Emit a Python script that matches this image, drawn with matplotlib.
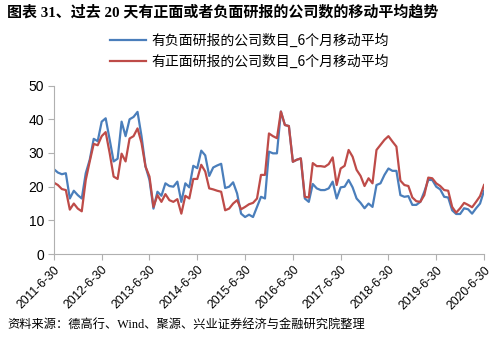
import matplotlib
matplotlib.use("Agg")
import matplotlib.pyplot as plt
import numpy as np

# monthly values, 2011-06 .. 2020-06
neg = [25.2, 24.2, 23.7, 24.0, 16.5, 18.8, 17.5, 16.5, 24.0, 28.0, 34.2, 33.5,
       39.3, 40.3, 34.0, 27.5, 28.3, 39.3, 35.0, 40.0, 40.7, 42.2, 35.0, 26.0,
       22.0, 13.5, 18.5, 17.3, 21.0, 20.2, 20.0, 21.5, 15.5, 21.0, 19.8, 26.2,
       25.5, 30.7, 29.3, 23.2, 25.7, 26.3, 26.8, 19.6, 20.0, 21.3, 18.0, 12.0,
       11.0, 11.7, 11.0, 14.0, 17.0, 16.5, 30.4, 29.9, 29.9, 42.3, 38.3, 38.0,
       27.4, 28.0, 28.4, 16.5, 15.5, 20.8, 19.5, 19.0, 19.0, 19.5, 21.5, 16.5,
       19.8, 20.0, 22.0, 19.8, 16.5, 15.2, 13.6, 15.0, 14.0, 20.5, 21.0, 23.5,
       25.4, 24.7, 24.7, 17.5, 17.0, 17.2, 14.6, 14.6, 15.5, 18.5, 22.0, 22.0,
       20.0, 19.2, 17.0, 16.8, 13.0, 11.9, 11.9, 13.6, 13.3, 12.0, 13.6, 15.0,
       18.8]
pos = [21.2, 20.5, 19.3, 19.0, 13.2, 15.0, 13.5, 12.7, 22.0, 27.5, 32.7, 32.3,
       35.0, 36.2, 30.0, 23.0, 22.3, 29.8, 27.5, 34.3, 35.0, 37.3, 33.0, 26.0,
       23.0, 14.0, 17.5, 15.5, 17.8, 16.0, 15.5, 16.3, 12.0, 17.3, 16.5, 22.3,
       22.3, 26.5, 24.5, 19.5, 19.2, 18.8, 18.5, 13.0, 13.5, 15.0, 16.0, 13.3,
       14.0, 14.8, 15.2, 16.5, 23.5, 23.5, 35.8, 35.0, 34.4, 42.3, 38.3, 38.0,
       27.4, 28.0, 28.4, 17.0, 16.8, 27.0, 26.1, 26.1, 25.9, 26.7, 28.7, 20.5,
       25.4, 26.2, 30.9, 28.9, 25.0, 23.2, 20.2, 22.5, 21.0, 30.9, 32.4, 33.9,
       35.0, 33.4, 31.9, 21.8, 20.5, 20.2, 16.8, 15.7, 15.5, 17.5, 22.7, 22.5,
       21.0, 20.2, 19.0, 18.8, 14.0, 12.3, 13.6, 15.2, 14.6, 13.9, 15.5, 17.2,
       20.5]
tick_labels = ["2011-6-30", "2012-6-30", "2013-6-30", "2014-6-30", "2015-6-30",
               "2016-6-30", "2017-6-30", "2018-6-30", "2019-6-30", "2020-6-30"]
neg_label = "有负面研报的公司数目_6个月移动平均"
pos_label = "有正面研报的公司数目_6个月移动平均"

cjk = ["Noto Sans CJK SC", "DejaVu Sans"]
plt.rcParams["font.family"] = ["Liberation Sans", "Noto Sans CJK SC"]

fig = plt.figure(figsize=(4.99, 3.37), dpi=100)
ax = fig.add_axes([0.108, 0.246, 0.862, 0.5])

x = np.arange(len(neg))
ax.plot(x, neg, color="#4a7ebb", lw=1.6, label=neg_label)
ax.plot(x, pos, color="#be4b48", lw=1.6, label=pos_label)

ax.set_xlim(0, 108)
ax.set_ylim(0, 50)
ax.set_yticks(range(0, 51, 10))
ax.set_xticks(np.arange(0, 109, 12))
ax.set_xticklabels(tick_labels, rotation=45, ha="right", rotation_mode="anchor", fontsize=8.7)
ax.tick_params(axis="y", labelsize=10, length=4, color="#b0b0b0", pad=3)
ax.tick_params(axis="x", length=4, color="#b0b0b0", pad=3)
for s in ["top", "right"]:
    ax.spines[s].set_visible(False)
for s in ["left", "bottom"]:
    ax.spines[s].set_color("#b0b0b0")

fig.legend(loc="upper center", bbox_to_anchor=(0.5, 0.937), frameon=False,
           prop={"family": cjk, "size": 10}, handlelength=2.6, labelspacing=0.5,
           handletextpad=0.4)

fig.text(0.014, 1 - 12 / 337, "图表 31、过去 20 天有正面或者负面研报的公司数的移动平均趋势",
         family=["Liberation Serif", "Noto Sans CJK SC"], fontweight="bold",
         fontsize=10.8, va="center", ha="left")
fig.text(0.014, 1 - 326 / 337, "资料来源：德高行、Wind、聚源、兴业证券经济与金融研究院整理",
         family=["Liberation Serif", "Noto Sans CJK SC"], fontsize=8.8,
         va="center", ha="left")

fig.savefig("out.png", dpi=100)
